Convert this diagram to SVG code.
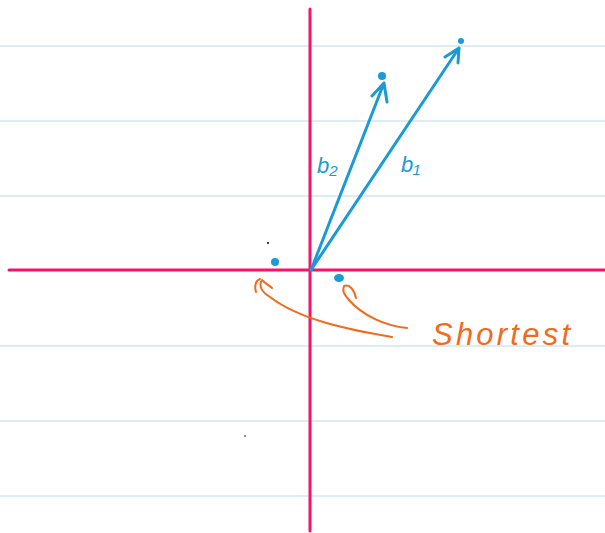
<svg xmlns="http://www.w3.org/2000/svg" width="605" height="533" viewBox="0 0 605 533">
<style>
.rule{stroke:#cfe8f6;stroke-width:1.5}
.axis{stroke:#f2156a;stroke-width:3;stroke-linecap:round}
.vec{stroke:#1a9bd7;stroke-width:3;fill:none;stroke-linecap:round;stroke-linejoin:round}
.dot{fill:#1a9bd7}
.or{stroke:#f26a1b;stroke-width:2;fill:none;stroke-linecap:round;stroke-linejoin:round}
.lbl{font-family:"Liberation Sans",sans-serif;font-size:22px;fill:#1a9bd7;font-style:italic}
.sh{font-family:"Liberation Sans",sans-serif;font-size:31px;fill:#f26a1b;font-style:italic}
</style>
<rect width="605" height="533" fill="#ffffff"/>
<g id="rules">
<line class="rule" x1="0" y1="46" x2="605" y2="46"/>
<line class="rule" x1="0" y1="121" x2="605" y2="121"/>
<line class="rule" x1="0" y1="196" x2="605" y2="196"/>
<line class="rule" x1="0" y1="346" x2="605" y2="346"/>
<line class="rule" x1="0" y1="421" x2="605" y2="421"/>
<line class="rule" x1="0" y1="496" x2="605" y2="496"/>
</g>
<g id="axes">
<line class="axis" x1="310" y1="9" x2="310" y2="531"/>
<line class="axis" x1="9" y1="270" x2="605" y2="270"/>
</g>
<g id="connectors">
<path id="b1" class="vec" d="M311,270 L459,48 M445,57 L459,48 L458,63"/>
<path id="b2" class="vec" d="M311,270 L384,83 M372,96 L384,83 L387,102"/>
<path class="or" d="M392,337 C350,330 300,320 270,297 C262,292 258,286 262,280 C266,284 270,286 272,288"/>
<path class="or" d="M256,292 C254,286 256,280 260,279"/>
<path class="or" d="M407,328 C385,326 362,315 349,300 C344,294 342,291 344,286 C350,284 354,290 356,298"/>
</g>
<g id="points">
<circle class="dot" cx="461" cy="41" r="3"/>
<circle class="dot" cx="382" cy="76" r="4"/>
<circle class="dot" cx="275" cy="262" r="4"/>
<ellipse class="dot" cx="339" cy="278" rx="5" ry="4"/>
<circle cx="268" cy="243" r="1" fill="#000"/>
<circle cx="245" cy="436" r="0.8" fill="#000"/>
</g>
<g id="labels">
<text class="lbl" x="317" y="173">b₂</text>
<text class="lbl" x="401" y="172">b₁</text>
<text class="sh" x="432" y="345" textLength="138" lengthAdjust="spacing">Shortest</text>
</g>
</svg>
